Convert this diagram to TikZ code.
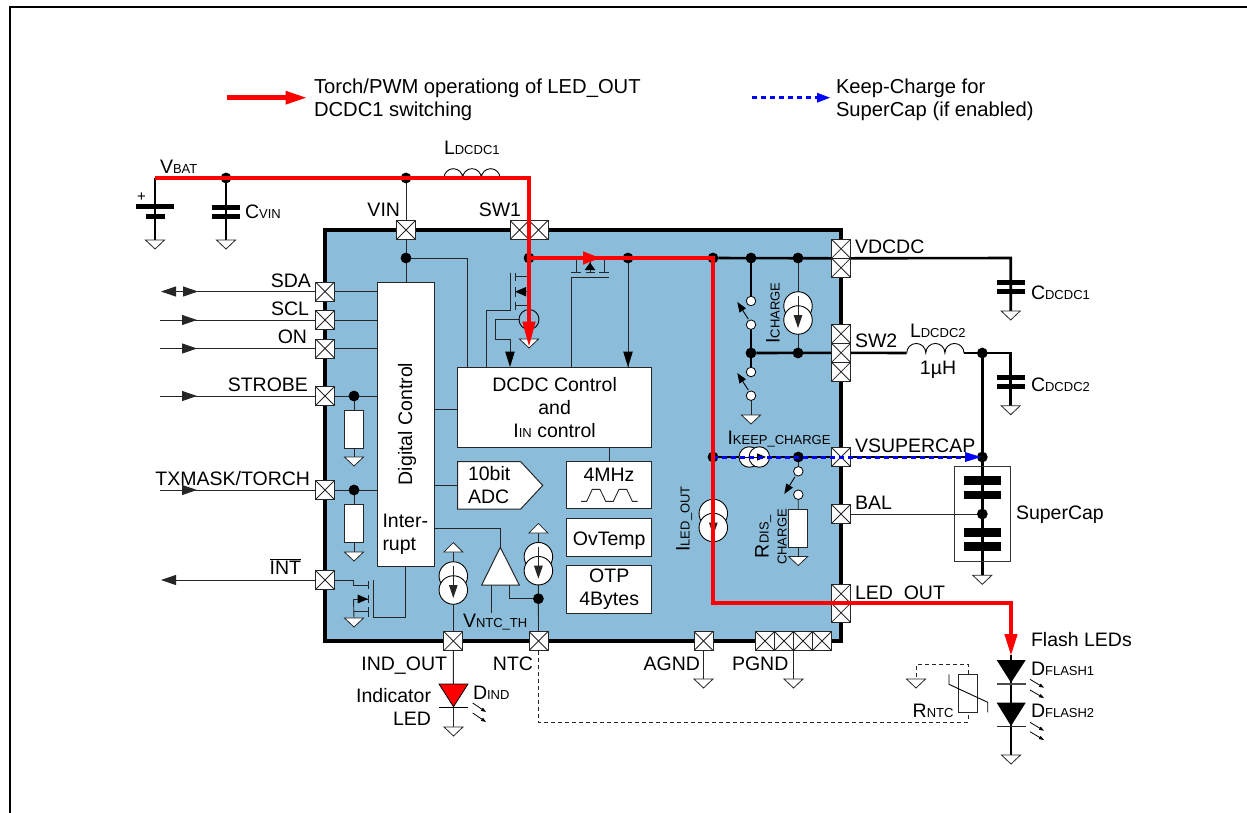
\documentclass[tikz,border=0pt]{standalone}
\usepackage{fontspec}
\setmainfont{Liberation Sans}
\usetikzlibrary{arrows.meta,decorations.markings}
\pgfdeclarelayer{back}\pgfdeclarelayer{wires}\pgfdeclarelayer{front}
\pgfsetlayers{back,wires,main,front}
\definecolor{chipblue}{HTML}{8BBCD9}
\newcommand\sm[1]{{\fontsize{13}{16}\selectfont #1}}
\tikzset{
 lbl/.style={inner sep=0,outer sep=0,font=\fontsize{19.5}{23}\selectfont,text height=14pt,text depth=0pt},
 lbml/.style={inner sep=0,outer sep=0,font=\fontsize{19.5}{23}\selectfont},
 lgd/.style={inner sep=0,outer sep=0,font=\fontsize{20.2}{23}\selectfont,align=left,anchor=west},
 pin/.style={draw=black!85,line width=.9pt,fill=white,minimum size=19pt,inner sep=0,outer sep=0,
   path picture={\draw[line width=.8pt,black!85] (path picture bounding box.north west)--(path picture bounding box.south east)
     (path picture bounding box.north east)--(path picture bounding box.south west);}},
 jd/.style={circle,fill=black,minimum size=10.8pt,inner sep=0,outer sep=0},
 sw/.style={circle,draw=black,fill=white,line width=.8pt,minimum size=9.5pt,inner sep=0,outer sep=0},
 cs/.style={circle,draw=black,fill=white,line width=.9pt,minimum size=28.5pt,inner sep=0,outer sep=0},
 csk/.style={circle,draw=black,fill=white,line width=.9pt,minimum size=20.5pt,inner sep=0,outer sep=0},
 box/.style={draw=black!85,fill=white,line width=1pt,inner sep=0,outer sep=0},
 thin w/.style={line width=.9pt,black!85},
 thk/.style={line width=2.6pt,black},
 plate/.style={line width=5pt,black},
 gs/.style={draw=black!85,fill=white,line width=.8pt,line join=miter},
 tipS/.style={-{Triangle[length=10pt,width=7.5pt]}},
 inarrow/.style={postaction={decorate},decoration={markings,mark=at position 37pt with {\arrow{Triangle[length=15pt,width=10pt]}}}},
 redw/.style={line width=4.6pt,red,line join=miter},
 bluew/.style={line width=3pt,blue,dash pattern=on 5pt off 4pt},
 ntcdash/.style={line width=.9pt,black!85,dash pattern=on 4pt off 3pt},
}
\newcommand\gnd[3]{\coordinate (#1) at (#2,#3);
  \draw[gs] ([xshift=-9.5pt]#1) -- ([xshift=9.5pt]#1) -- ([yshift=-9pt]#1) -- cycle;}
\newcommand\upgnd[3]{\coordinate (#1) at (#2,#3);
  \draw[gs] ([xshift=-9.5pt]#1) -- ([xshift=9.5pt]#1) -- ([yshift=9.5pt]#1) -- cycle;}
\newcommand\csrc[3]{\node[cs] (#1a) at (#2,#3) {}; \node[cs] (#1b) at (#2,#3+14) {};
  \draw[thin w,-{Triangle[length=13pt,width=8.5pt]}] (#2,#3-10) -- (#2,#3+22);}
\newcommand\ledarr[4]{\draw[line width=.8pt,-{Triangle[length=5pt,width=3.5pt]}] (#1,#2) -- (#3,#4);}
\begin{document}
\begin{tikzpicture}[x=1pt,y=-1pt]
\useasboundingbox (0,0) rectangle (1247,812);
\begin{pgfonlayer}{back}
 \path[fill=white] (0,0) rectangle (1247,812);
 \draw[line width=2.6pt] (10,830) -- (10,7) -- (1260,7);
 \draw[line width=4pt,fill=chipblue,line join=miter] (325,230) rectangle (840.5,641);
\end{pgfonlayer}

% pins
\node[pin] (pVIN) at (406,230) {};
\node[pin] (pSW1a) at (519.5,230) {};
\node[pin] (pSW1b) at (538.5,230) {};
\node[pin] (pSDA) at (325,291.5) {};
\node[pin] (pSCL) at (325,320) {};
\node[pin] (pON) at (325,348.5) {};
\node[pin] (pSTR) at (325,396) {};
\node[pin] (pTX) at (325,490) {};
\node[pin] (pINT) at (325,580) {};
\node[pin] (pIND) at (453.3,641) {};
\node[pin] (pNTC) at (538.5,641) {};
\node[pin] (pAG) at (703.5,641) {};
\node[pin] (pPG1) at (765,641) {};
\node[pin] (pPG2) at (784,641) {};
\node[pin] (pPG3) at (803,641) {};
\node[pin] (pPG4) at (822,641) {};
\node[pin] (pVDa) at (841,248.8) {};
\node[pin] (pVDb) at (841,267.8) {};
\node[pin] (pSWa) at (841,333.8) {};
\node[pin] (pSWb) at (841,352.8) {};
\node[pin] (pSWc) at (841,371.8) {};
\node[pin] (pVS) at (841,457) {};
\node[pin] (pBAL) at (841,514) {};
\node[pin] (pLa) at (841,593.8) {};
\node[pin] (pLb) at (841,612.8) {};

% boxes
\node[box,minimum width=57pt,minimum height=284pt] (dig) at (405.5,424) {};
\node[box,minimum width=194.2pt,minimum height=80.4pt] (dcdc) at (554.6,407.5) {};
\node[box,minimum width=85pt,minimum height=47.3pt] (osc) at (609.2,485.3) {};
\node[box,minimum width=85pt,minimum height=37.6pt] (ovt) at (609.2,537.5) {};
\node[box,minimum width=85pt,minimum height=47.6pt] (otp) at (609.2,589.5) {};
\node[box,minimum width=18.5pt,minimum height=38pt] (rS) at (354,429) {};
\node[box,minimum width=18.5pt,minimum height=38pt] (rT) at (354,523) {};
\node[box,minimum width=19pt,minimum height=37.7pt] (rD) at (798.2,528.2) {};
\node[box,minimum width=18.7pt,minimum height=38pt] (rN) at (968.3,693.3) {};
\node[draw=black!80,line width=.9pt,minimum width=56.7pt,minimum height=95pt,inner sep=0,outer sep=0] (scap) at (982.3,513.8) {};
\draw[box] (457.5,461.7) -- (520.7,461.7) -- (542.7,485.4) -- (520.7,509) -- (457.5,509) -- cycle;
\coordinate (adcw) at (457.5,485.4);
\draw[box] (500.3,547.3) -- (519.3,585) -- (481.7,585) -- cycle;
\coordinate (cmpT) at (500.3,547.3);
\coordinate (cmpL) at (491,585);
\coordinate (cmpR) at (509.7,585);
% 4MHz waveform
\draw[line width=.9pt,black!85] (581,501.3) -- (586.7,501.3) -- (592.3,489.3) -- (600,489.3) -- (605.7,501.3) -- (613.3,501.3) -- (619,489.3) -- (626.7,489.3) -- (632.3,501.3) -- (637.7,501.3);

% junctions
\node[jd] (jC) at (226,178) {};
\node[jd] (jV) at (406,178) {};
\node[jd] (jVi) at (406,258) {};
\node[jd] (jSW) at (529,258) {};
\node[jd] (jP) at (628,258) {};
\node[jd] (jM) at (713,258) {};
\node[jd] (jA) at (751,258) {};
\node[jd] (jB) at (798,258) {};
\node[jd] (jE) at (751,353) {};
\node[jd] (jF) at (798,353) {};
\node[jd] (jS) at (354,396) {};
\node[jd] (jT) at (354,490) {};
\node[jd] (jN) at (538.4,598.7) {};
\node[jd] (jK) at (713,457) {};
\node[jd] (jD) at (798.3,457) {};
\node[jd] (jL) at (982.3,353) {};
\node[jd] (jU) at (982.3,457) {};
\node[jd] (jBa) at (982.3,514) {};

% switches
\node[sw] (s1a) at (751,301) {};
\node[sw] (s1b) at (751,324.7) {};
\node[sw] (s2a) at (751,372) {};
\node[sw] (s2b) at (751,395.7) {};
\node[sw] (s3a) at (798.3,471.3) {};
\node[sw] (s3b) at (798.3,494.7) {};
\draw[line width=.9pt,tipS] (748.3,319) -- (737.3,302);
\draw[line width=.9pt,tipS] (748.3,390) -- (737.3,373);
\draw[line width=.9pt,tipS] (795,476.7) -- (784.3,494);

% current sources
\csrc{iC}{798}{306}
\csrc{iL}{713.3}{513.5}
\csrc{iI}{453.3}{576}
\csrc{iN}{538.4}{556.7}
\node[csk] (iKa) at (749.3,457) {};
\node[csk] (iKb) at (759.3,457) {};
\draw[line width=.9pt,-{Triangle[length=9pt,width=7pt]}] (745,457) -- (766,457);
\node[circle,draw=black,line width=.9pt,minimum size=20pt,inner sep=0,outer sep=0] (iSW) at (529,319.5) {};

% grounds
\gnd{gB}{155}{240}
\gnd{gC}{226}{240}
\gnd{gS}{354}{457}
\gnd{gT}{354}{552}
\gnd{gI}{354}{618}
\gnd{gM}{529}{339}
\gnd{g2}{751}{415}
\gnd{gR}{798.2}{556.5}
\gnd{gA}{703.5}{679}
\gnd{gP}{793.5}{679}
\gnd{gD}{453.5}{727}
\gnd{gN}{916}{679}
\gnd{gF}{1011}{755}
\gnd{gC1}{1010.7}{311}
\gnd{gC2}{1010.7}{405.7}
\gnd{gSC}{982.3}{575.3}
\upgnd{uI}{453.3}{552}
\upgnd{uN}{538.4}{533}

% LEDs
\draw[fill=red,draw=black,line width=.8pt] (439,684) -- (468,684) -- (453.5,706.7) -- cycle;
\draw[line width=.9pt] (439,707.7) -- (468,707.7);
\ledarr{472.7}{703}{486}{712}
\ledarr{472.7}{713}{486}{722}
\fill (996.7,660) -- (1025.7,660) -- (1011,682.7) -- cycle;
\draw[line width=1.2pt,black!70] (996.7,684) -- (1025.7,684);
\fill (996.7,702.7) -- (1025.7,702.7) -- (1011,726) -- cycle;
\draw[line width=1.2pt,black!85] (996.7,726.3) -- (1025.7,726.3);
\ledarr{1030}{679.3}{1044}{687.7}
\ledarr{1030}{690}{1044}{698}
\ledarr{1030}{722.3}{1044}{730.7}
\ledarr{1030}{731.7}{1044}{740}

% labels
\node[lbl,anchor=west] (tVBAT) at (160,166) {V\sm{BAT}};
\node[lbl,anchor=west] (tLD1) at (444,147) {L\sm{DCDC1}};
\node[lbl,anchor=west] (tCV) at (245,211) {C\sm{VIN}};
\node[lbl,anchor=east] (tVIN) at (400,209) {VIN};
\node[lbl,anchor=east] (tSW1) at (521,209) {SW1};
\node[lbl,anchor=east] (tSDA) at (311,280) {SDA};
\node[lbl,anchor=east] (tSCL) at (309,308) {SCL};
\node[lbl,anchor=east] (tON) at (307,336) {ON};
\node[lbl,anchor=east] (tSTR) at (308,384) {STROBE};
\node[lbl,anchor=east] (tTX) at (310,478) {TXMASK/TORCH};
\node[lbl,anchor=east] (tINT) at (301,567) {$\overline{\hbox{INT}}$};
\node[lbl,anchor=east] (tIO) at (447,663) {IND\_OUT};
\node[lbl,anchor=east] (tNTC) at (533,663) {NTC};
\node[lbl,anchor=east] (tAG) at (700,663) {AGND};
\node[lbl,anchor=west] (tPG) at (732,663) {PGND};
\node[lbml,align=right,anchor=east] (tInd) at (431,707) {Indicator\\LED};
\node[lbl,anchor=west] (tDI) at (473,692) {D\sm{IND}};
\node[lbl,anchor=west] (tVT) at (463,620) {V\sm{NTC\_TH}};
\node[lbl,rotate=90] (tDig) at (405,424) {Digital Control};
\node[lbml,align=left,anchor=west] (tIr) at (382.5,534) {Inter-\\rupt};
\node[lbml,align=center] (tDC) at (554.6,407.5) {DCDC Control\\and\\I\sm{IN} control};
\node[lbml,align=left,anchor=west] (tAD) at (468,485.5) {10bit\\ADC};
\node[lbl] (t4M) at (609,474) {4MHz};
\node[lbl] (tOv) at (609.2,538) {OvTemp};
\node[lbml,align=center] (tOT) at (609.2,589.5) {OTP\\4Bytes};
\node[lbl,rotate=90] (tIC) at (772.7,313) {I\sm{CHARGE}};
\node[lbl,rotate=90] (tIL) at (682.7,519) {I\sm{LED\_OUT}};
\node[lbl,anchor=west] (tIK) at (727.5,437.5) {I\sm{KEEP\_CHARGE}};
\node[lbl,rotate=90] (tRD) at (761.7,536.5) {R\sm{DIS\_}};
\node[inner sep=0,rotate=90,font=\fontsize{13}{16}\selectfont,text height=10pt,text depth=0pt] (tRC) at (781.7,537) {CHARGE};
\node[lbl,anchor=west] (tVD) at (855,246) {VDCDC};
\node[lbl,anchor=west] (tS2) at (855,340.7) {SW2};
\node[lbl,anchor=west] (tLD2) at (910,330.7) {L\sm{DCDC2}};
\node[lbl] (tuH) at (938,367) {1µH};
\node[lbl,anchor=west] (tC1) at (1031,292) {C\sm{DCDC1}};
\node[lbl,anchor=west] (tC2) at (1031,384) {C\sm{DCDC2}};
\node[lbl,anchor=west] (tVS) at (855,445) {VSUPERCAP};
\node[lbl,anchor=west] (tBL) at (855,502) {BAL};
\node[lbl,anchor=west] (tSC) at (1016,512.7) {SuperCap};
\node[lbl,anchor=west] (tLO) at (855,592) {LED\_OUT};
\node[lbl,anchor=west] (tFL) at (1031,639) {Flash LEDs};
\node[lbl,anchor=west] (tF1) at (1031,668) {D\sm{FLASH1}};
\node[lbl,anchor=west] (tF2) at (1031,710.7) {D\sm{FLASH2}};
\node[lbl,anchor=west] (tRN) at (912.7,710) {R\sm{NTC}};
\node[inner sep=0,outer sep=0,font=\fontsize{15}{15}\selectfont] (tPl) at (141.5,197) {+};
\node[lgd] (tL1) at (314,100) {Torch/PWM operationg of LED\_OUT\\DCDC1 switching};
\node[lgd] (tL2) at (836,100) {Keep-Charge for\\SuperCap (if enabled)};

% connectors
\coordinate (vb) at (155,178);
\coordinate (rc) at (529,178);
\coordinate (l1a) at (444,178);
\coordinate (l1b) at (500,178);
\coordinate (l2a) at (906.7,353);
\coordinate (l2b) at (964,353);
\coordinate (c1c) at (1010.7,258);
\coordinate (c2c) at (1010.7,353);
\coordinate (inSDA) at (161,291.5);
\coordinate (inSCL) at (160,320);
\coordinate (inON) at (160,348.5);
\coordinate (inSTR) at (160,396);
\coordinate (inTX) at (160,490);
\coordinate (outINT) at (161,580);
\coordinate (ledE) at (1011,603);
\coordinate (ledA) at (1011,655);
\coordinate (lgR1) at (227,97.7);
\coordinate (lgR2) at (306,97.7);
\coordinate (lgB1) at (752,97.7);
\coordinate (lgB2) at (830,97.7);
\coordinate (ntcB) at (968.3,722);
\coordinate (ntcT) at (968.3,664.7);

\begin{pgfonlayer}{wires}
 % battery and input
 \draw[thk] (vb) -- (rc);
 \draw[thk] (vb) -- (gB);
 \draw[plate] (136,206) -- (174,206);
 \draw[plate] (146,216) -- (165,216);
 \draw[thk] (jC.center) -- (gC);
 \draw[plate] (212,207) -- (240,207);
 \draw[plate] (212,216) -- (240,216);
 \draw[thin w] (jV) -- (pVIN);
 \draw[thin w] (pVIN) -- (jVi);
 \draw[thin w] (jVi) -- (jVi |- dig.north);
 \draw[thin w] (jVi) -| (467.5,367);
 \draw[line width=1pt] (rc) -- (jSW);
 % digital pins
 \draw[thin w,{Triangle[length=15pt,width=10pt]}-,inarrow] (inSDA) -- (pSDA);
 \draw[thin w,inarrow] (inSCL) -- (pSCL);
 \draw[thin w,inarrow] (inON) -- (pON);
 \draw[thin w,inarrow] (inSTR) -- (pSTR);
 \draw[thin w,inarrow] (inTX) -- (pTX);
 \draw[thin w,{Triangle[length=15pt,width=10pt]}-] (outINT) -- (pINT);
 \foreach \p in {pSDA,pSCL,pON,pSTR,pTX} \draw[thin w] (\p) -- (\p -| dig.west);
 \draw[thin w] (jS) -- (rS);
 \draw[thin w] (rS) -- (gS);
 \draw[thin w] (jT) -- (rT);
 \draw[thin w] (rT) -- (gT);
 % INT nmos
 \draw[thin w] (pINT) -- (353.5,580) -- (353.5,585) -- (368.7,585);
 \draw[thin w] (353.5,599) -- (368,599);
 \draw[thin w] (353.5,599) -- (gI);
 \draw[thin w] (353.5,611) -- (368.7,611);
 \draw[thin w] (368.7,581) -- (368.7,589) (368.7,595) -- (368.7,603) (368.7,607) -- (368.7,617);
 \draw[thin w] (373,580) -- (373,617.5) -| (dig.south);
 \fill (368,599) -- (357.5,594.5) -- (357.5,603.5) -- cycle;
 % block links
 \draw[thin w] (dig.east |- 0,409.5) -- (dcdc.west |- 0,409.5);
 \draw[thin w] (dig.east |- adcw) -- (adcw);
 \draw[thin w] (dcdc.south -| osc.north) -- (osc.north);
 \draw[thin w] (dig.east |- 0,528.3) -| (cmpT);
 \draw[thin w] (cmpL) -- (491,612.7);
 \draw[thin w] (cmpR) |- (jN);
 % current sources at the bottom
 \draw[thin w] (uI) -- (iIa);
 \draw[thin w] (iIb) -- (pIND);
 \draw[thin w] (uN) -- (iNa);
 \draw[thin w] (iNb) -- (jN.center) -- (pNTC);
 \draw[thin w] (pIND) -- (gD);
 % power stage
 \draw[thin w] (510.7,272.7) -- (510.7,310.7) -| (486.7,367);
 \draw[thin w] (515,272.7) -- (515,280.7) (515,286.7) -- (515,296.7) (515,301.7) -- (515,310);
 \draw[thin w] (515,276.7) -- (529,276.7) (515,291.7) -- (529,291.7) (515,305) -- (529,305);
 \fill (515,291.7) -- (526,287) -- (526,296.4) -- cycle;
 \draw[thin w] (iSW.west) -- (495,319.5) -- (495,339) -- (510,339) -- (510,356);
 \fill (510,367) -- (505.2,351.7) -- (514.8,351.7) -- cycle;
 \draw[thin w] (571,367) -- (571,277.3) -- (609,277.3);
 \draw[thin w] (571,272.7) -- (581,272.7) (585.7,272.7) -- (595,272.7) (599,272.7) -- (609,272.7);
 \draw[thin w] (576,258) -- (576,272.7) (590,258) -- (590,272.7) (604,258) -- (604,272.7);
 \fill (590,262.5) -- (584.7,270) -- (595.3,270) -- cycle;
 \draw[thin w] (jP) -- (jP |- dcdc.north) ;
 \fill (628,367) -- (623.2,351.7) -- (632.8,351.7) -- cycle;
 \draw[line width=1pt] (jSW) -- (jM);
 \draw[thk] (jM) -- (pVDa.south west);
 \draw[thk] (jA) -- (s1a);
 \draw[thk] (s1b) -- (jE);
 \draw[thk] (jE) -- (pSWb);
 \draw[thin w] (jB) -- (iCa);
 \draw[thin w] (iCb) -- (jF);
 \draw[thk] (jE) -- (s2a);
 \draw[thin w] (s2b) -- (g2);
 % right outside
 \draw[thk] (pVDa.south east) -- (c1c) -- (gC1);
 \draw[plate] (996.7,282.3) -- (1025,282.3);
 \draw[plate] (996.7,291.7) -- (1025,291.7);
 \draw[thk] (pSWb) -- (l2a);
 \draw[thk] (l2b) -- (c2c) -- (gC2);
 \draw[line width=.9pt] (l2a) arc[start angle=180,end angle=0,radius=9.55pt] arc[start angle=180,end angle=0,radius=9.55pt] arc[start angle=180,end angle=0,radius=9.55pt];
 \draw[line width=.9pt] (l1a) arc[start angle=180,end angle=0,radius=9.33pt] arc[start angle=180,end angle=0,radius=9.33pt] arc[start angle=180,end angle=0,radius=9.33pt];
 \draw[plate] (996.7,377) -- (1025,377);
 \draw[plate] (996.7,386) -- (1025,386);
 \draw[thk] (jL) -- (gSC);
 \draw[line width=8.5pt] (964,480.7) -- (1001.3,480.7) (964,495) -- (1001.3,495);
 \draw[line width=8.5pt] (964,532.7) -- (1001.3,532.7) (964,546.7) -- (1001.3,546.7);
 \draw[thin w] (pBAL) -- (jBa);
 % keep-charge path
 \draw[line width=1.2pt] (jK) -- (pVS);
 \draw[line width=1.2pt] (pVS) -- (jU);
 \draw[thin w] (jD) -- (s3a);
 \draw[thin w] (s3b) -- (rD);
 \draw[thin w] (rD) -- (gR);
 % analog bits and LEDs
 \draw[thin w] (iLa) -- (jK);
 \draw[thin w] (pAG) -- (gA);
 \draw[thin w] (pPG2.south east) -- (gP);
 \draw[thk] (ledA) -- (gF);
 % NTC
 \draw[ntcdash] (pNTC) |- (ntcB) -- (rN.south);
 \draw[ntcdash] (rN.north) -- (ntcT) -| (gN);
\end{pgfonlayer}
\draw[line width=.9pt] (949,674.3) -- (949,684.3) -- (987.7,702.3) -- (987.7,712.3);

\begin{pgfonlayer}{front}
 \draw[bluew] (jK.center) -- (965,457);
 \fill[blue] (981,457) -- (965,452) -- (965,462) -- cycle;
 \draw[redw] (lgR1) -- (285.5,97.7);
 \fill[red] (lgR2) -- (285.5,90.7) -- (285.5,104.7) -- cycle;
 \draw[bluew] (lgB1) -- (818,97.7);
 \fill[blue] (lgB2) -- (817,92.7) -- (817,102.7) -- cycle;
 \draw[redw] (vb) -- (rc) -- (529,325);
 \fill[red] (529,346) -- (522.3,321.7) -- (535.7,321.7) -- cycle;
 \draw[redw] (jSW.center) -- (jM.center) -- (713,603) -- (ledE) -- (1011,636);
 \fill[red] (600,258) -- (583,251.3) -- (583,264.7) -- cycle;
 \fill[red] (ledA) -- (1004.3,634) -- (1017.7,634) -- cycle;
\end{pgfonlayer}
\end{tikzpicture}
\end{document}
